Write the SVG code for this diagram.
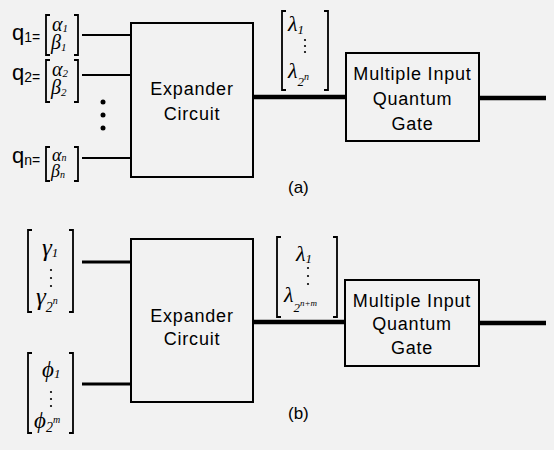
<svg xmlns="http://www.w3.org/2000/svg" width="554" height="450" viewBox="0 0 554 450">
<style>
.box{fill:none;stroke:#000;stroke-width:2}
.thin{stroke:#000;stroke-width:2;fill:none}
.thick{stroke:#000;stroke-width:4.5;fill:none}
.br{fill:none;stroke:#000;stroke-width:1.8}
.lbl{font-family:"Liberation Sans",Arial,sans-serif;font-size:18px;letter-spacing:0.8px;fill:#000}
.q{font-family:"Liberation Sans",Arial,sans-serif;font-size:22px;fill:#000}
.qs{font-size:14px}
.m{font-family:"Liberation Serif","Times New Roman","DejaVu Serif",serif;font-style:italic;fill:#000}
.cap{font-family:"Liberation Sans",Arial,sans-serif;font-size:17px;fill:#000}
</style>
<rect width="554" height="450" fill="#f2f2f2"/>

<g id="connectors">
  <line class="thin" x1="82" y1="35" x2="131" y2="35"/>
  <line class="thin" x1="82" y1="75" x2="131" y2="75"/>
  <line class="thin" x1="82" y1="158" x2="131" y2="158"/>
  <line class="thick" x1="253" y1="97" x2="346" y2="97"/>
  <line class="thick" x1="479" y1="98" x2="546" y2="98"/>
  <line class="thin" x1="82" y1="262" x2="131" y2="262" style="stroke-width:3"/>
  <line class="thin" x1="82" y1="384" x2="131" y2="384" style="stroke-width:3"/>
  <line class="thick" x1="253" y1="322" x2="345" y2="322"/>
  <line class="thick" x1="479" y1="323" x2="546" y2="323"/>
</g>

<g id="expander-a">
  <rect class="box" x="131" y="23" width="122" height="154"/>
  <text class="lbl" x="192" y="95" text-anchor="middle">Expander</text>
  <text class="lbl" x="192" y="120" text-anchor="middle">Circuit</text>
</g>
<g id="gate-a">
  <rect class="box" x="346" y="53" width="133" height="88"/>
  <text class="lbl" x="412.5" y="80" text-anchor="middle">Multiple Input</text>
  <text class="lbl" x="412.5" y="105" text-anchor="middle">Quantum</text>
  <text class="lbl" x="412.5" y="130" text-anchor="middle">Gate</text>
</g>

<g id="q1">
  <text class="q" x="12" y="40">q<tspan class="qs" dy="2">1=</tspan></text>
  <path class="br" d="M50 15H46V55H50M74 15H78V55H74"/>
  <text class="m" x="52" y="31" font-size="20">α<tspan font-size="11" dy="1">1</tspan></text>
  <text class="m" x="51" y="49" font-size="20">β<tspan font-size="11" dy="2">1</tspan></text>
</g>
<g id="q2">
  <text class="q" x="12" y="80">q<tspan class="qs" dy="2">2=</tspan></text>
  <path class="br" d="M50 60H46V102H50M74 60H78V102H74"/>
  <text class="m" x="52" y="76" font-size="20">α<tspan font-size="11" dy="1">2</tspan></text>
  <text class="m" x="51" y="94" font-size="20">β<tspan font-size="11" dy="2">2</tspan></text>
</g>
<g id="dots-a">
  <circle cx="103" cy="102" r="2.5"/>
  <circle cx="103" cy="115" r="2.5"/>
  <circle cx="103" cy="128" r="2.5"/>
</g>
<g id="qn">
  <text class="q" x="12" y="163">q<tspan class="qs" dy="2">n=</tspan></text>
  <path class="br" d="M50 147H46V181H50M74 147H78V181H74"/>
  <text class="m" x="52" y="161" font-size="18">α<tspan font-size="10" dy="0">n</tspan></text>
  <text class="m" x="51" y="177" font-size="18">β<tspan font-size="10" dy="1">n</tspan></text>
</g>

<g id="lambda-a">
  <path class="br" d="M286 11H282V90H286M324 11H328V90H324"/>
  <text class="m" x="288" y="31" font-size="22">λ<tspan font-size="13" dy="3">1</tspan></text>
  <circle cx="305" cy="40" r="1.1"/><circle cx="305" cy="46" r="1.1"/><circle cx="305" cy="52" r="1.1"/>
  <text class="m" x="288" y="78" font-size="22">λ<tspan font-size="13" dy="8">2</tspan><tspan font-size="10" dy="-6">n</tspan></text>
</g>

<text class="cap" x="288" y="193">(a)</text>

<g id="expander-b">
  <rect class="box" x="131" y="239" width="122" height="163"/>
  <text class="lbl" x="192" y="322" text-anchor="middle">Expander</text>
  <text class="lbl" x="192" y="345" text-anchor="middle">Circuit</text>
</g>
<g id="gate-b">
  <rect class="box" x="345" y="280" width="134" height="86"/>
  <text class="lbl" x="412" y="307" text-anchor="middle">Multiple Input</text>
  <text class="lbl" x="412" y="330" text-anchor="middle">Quantum</text>
  <text class="lbl" x="412" y="354" text-anchor="middle">Gate</text>
</g>

<g id="gamma">
  <path class="br" d="M32 230H28V312H32M69 230H73V312H69"/>
  <text class="m" x="42" y="256" font-size="25">γ<tspan font-size="13" dy="1">1</tspan></text>
  <circle cx="51" cy="270" r="1.1"/><circle cx="51" cy="278" r="1.1"/><circle cx="51" cy="286" r="1.1"/>
  <text class="m" x="36" y="305" font-size="25">γ<tspan font-size="14" dy="7">2</tspan><tspan font-size="10" dy="-8">n</tspan></text>
</g>
<g id="phi">
  <path class="br" d="M32 353H28V433H32M69 353H73V433H69"/>
  <text class="m" x="42" y="377" font-size="23">ϕ<tspan font-size="13" dy="1">1</tspan></text>
  <circle cx="51" cy="392" r="1.1"/><circle cx="51" cy="399" r="1.1"/><circle cx="51" cy="406" r="1.1"/>
  <text class="m" x="34" y="428" font-size="23">ϕ<tspan font-size="14" dy="4">2</tspan><tspan font-size="10" dy="-9">m</tspan></text>
</g>

<g id="lambda-b">
  <path class="br" d="M281 237H277V317H281M333 237H337V317H333"/>
  <text class="m" x="296" y="261" font-size="22">λ<tspan font-size="13" dy="2">1</tspan></text>
  <circle cx="308" cy="268" r="1.1"/><circle cx="308" cy="276" r="1.1"/><circle cx="308" cy="284" r="1.1"/>
  <text class="m" x="284" y="302" font-size="22">λ<tspan font-size="13" dy="10">2</tspan><tspan font-size="9" dy="-6">n+m</tspan></text>
</g>

<text class="cap" x="288" y="419">(b)</text>
</svg>
